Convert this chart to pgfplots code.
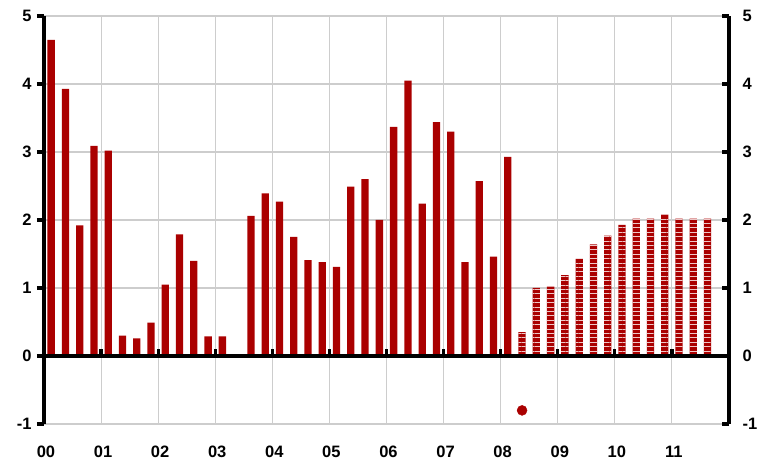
\documentclass[border=0pt]{standalone}
\usepackage{pgfplots}
\pgfplotsset{compat=1.18}
\usepackage{fontspec}
\setmainfont{Liberation Sans}[BoldFont={Liberation Sans Bold}]
\usetikzlibrary{patterns.meta}
\definecolor{barred}{RGB}{170,0,0}
\definecolor{gridgray}{RGB}{205,205,205}
\definecolor{stripe}{RGB}{238,200,200}
\newcommand{\tlfont}{\fontsize{16.5}{19}\selectfont\bfseries}
\begin{document}
\begin{tikzpicture}
\pgfplotsset{
  common/.style={
    scale only axis, width=685pt, height=408pt,
    xmin=0, xmax=48, ymin=-1, ymax=5,
    ytick={-1,0,...,5},
    yticklabels={\textbf{-1},\textbf{0},\textbf{1},\textbf{2},\textbf{3},\textbf{4},\textbf{5}},
    every tick label/.append style={font=\tlfont},
    major tick length=7pt,
    every tick/.append style={line width=3.2pt, black},
    every major tick/.append style={line width=3.2pt, black},
  }
}
\begin{axis}[common, name=A,
  axis x line=bottom, axis y line=left,
  x axis line style={draw=none},
  y axis line style={-, line width=3.2pt, black},
  xtick={0,4,...,44},
  xticklabels={\textbf{00},\textbf{01},\textbf{02},\textbf{03},\textbf{04},\textbf{05},\textbf{06},\textbf{07},\textbf{08},\textbf{09},\textbf{10},\textbf{11}},
  xtick style={draw=none},
  xticklabel style={yshift=-15pt, xshift=2pt},
  ytick align=outside,
  yticklabel style={xshift=-2pt},
  grid=major, major grid style={gridgray, line width=1.1pt},
]
\addplot[ybar, bar width=7.3pt, bar shift=0pt, fill=barred, draw=none] coordinates {
(0.5,4.65) (1.5,3.93) (2.5,1.92) (3.5,3.09)
(4.5,3.02) (5.5,0.30) (6.5,0.26) (7.5,0.49)
(8.5,1.05) (9.5,1.79) (10.5,1.40) (11.5,0.29)
(12.5,0.29) (13.5,-0.02) (14.5,2.06) (15.5,2.39)
(16.5,2.27) (17.5,1.75) (18.5,1.41) (19.5,1.38)
(20.5,1.31) (21.5,2.49) (22.5,2.60) (23.5,2.00)
(24.5,3.37) (25.5,4.05) (26.5,2.24) (27.5,3.44)
(28.5,3.30) (29.5,1.38) (30.5,2.57) (31.5,1.46)
(32.5,2.93)
};
\addplot[ybar, bar width=7.3pt, bar shift=0pt, fill=barred, draw=none,
  postaction={pattern={Lines[angle=0,distance=4.4pt,line width=0.9pt]}, pattern color=stripe}] coordinates {
(33.5,0.35) (34.5,1.00) (35.5,1.02) (36.5,1.19) (37.5,1.43) (38.5,1.64)
(39.5,1.77) (40.5,1.93) (41.5,2.02) (42.5,2.02) (43.5,2.08) (44.5,2.02)
(45.5,2.02) (46.5,2.02)
};
\end{axis}
\begin{axis}[common,
  axis x line=middle, axis y line=right,
  hide obscured x ticks=false, hide obscured y ticks=false,
  xtick={4,8,...,44}, xticklabels={},
  xtick align=inside,
  ytick align=inside,
  yticklabel style={xshift=10pt},
  x axis line style={-, line width=3.2pt, black},
  y axis line style={-, line width=3.2pt, black},
]
\addplot[only marks, mark=*, mark size=5pt, barred] coordinates {(33.5,-0.8)};
\end{axis}
\pgfresetboundingbox
\path[use as bounding box] ([xshift=-44pt,yshift=-37pt]A.south west) rectangle ([xshift=29pt,yshift=16pt]A.north east);
\end{tikzpicture}
\end{document}
